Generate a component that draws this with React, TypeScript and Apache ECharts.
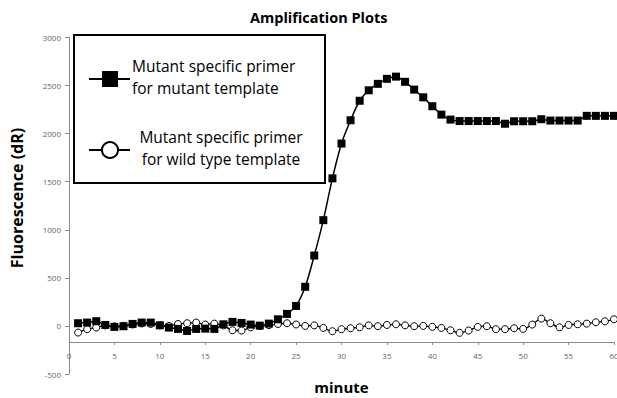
import React, { useEffect, useRef } from "react";
import * as echarts from "echarts";

const minutes = [
  1, 2, 3, 4, 5, 6, 7, 8, 9, 10, 11, 12, 13, 14, 15, 16, 17, 18, 19, 20,
  21, 22, 23, 24, 25, 26, 27, 28, 29, 30, 31, 32, 33, 34, 35, 36, 37, 38, 39, 40,
  41, 42, 43, 44, 45, 46, 47, 48, 49, 50, 51, 52, 53, 54, 55, 56, 57, 58, 59, 60,
];

const mutantTemplate = [
  28, 35, 49, 10, -10, -3, 21, 35, 35, 7, -17, -31, -52, -31, -28, -31, 17, 42, 31, 14,
  3, 24, 69, 125, 208, 407, 732, 1100, 1535, 1897, 2139, 2342, 2451, 2518, 2570, 2593, 2539, 2458, 2378, 2285,
  2198, 2146, 2131, 2131, 2131, 2131, 2131, 2103, 2129, 2129, 2129, 2150, 2136, 2136, 2136, 2136, 2185, 2185, 2185, 2185,
];

const wildTemplate = [
  -69, -34, -17, 5, -5, 0, 15, 25, 20, 5, 0, 20, 28, 35, 15, 24, 5, -45, -48, -15,
  0, 8, 20, 28, 15, 0, 6, -21, -55, -34, -24, -14, 6, -3, 10, 17, 6, -3, 0, -10,
  -21, -45, -72, -48, -10, -3, -34, -34, -24, -31, 14, 76, 28, -14, 10, 17, 24, 38, 48, 69,
];

const seriesNames = [
  "Mutant specific primer\nfor mutant template",
  "Mutant specific primer\nfor wild type template",
];

const FONT = "'Open Sans', 'Noto Sans', sans-serif";

export default function App() {
  const ref = useRef<HTMLDivElement>(null);

  useEffect(() => {
    document.body.style.margin = "0";
    if (!ref.current) return;
    const chart = echarts.init(ref.current, null, { renderer: "svg" });
    const pairs = (vals: number[]) => minutes.map((m, i) => [m, vals[i]]);

    chart.setOption({
      animation: false,
      backgroundColor: "#fff",
      title: {
        text: "Amplification Plots",
        left: 245,
        top: 5,
        textStyle: { fontFamily: FONT, fontSize: 14.5, fontWeight: "bold", color: "#000" },
      },
      grid: [
        { left: 69, right: 3, top: 37.5, bottom: 24, containLabel: false, outerBoundsMode: "none" },
        { left: 69, right: 3, top: 37.5, bottom: 56, containLabel: false, outerBoundsMode: "none" },
      ],
      xAxis: [
        {
          gridIndex: 0,
          type: "value",
          min: 0,
          max: 60,
          interval: 5,
          show: false,
        },
        {
          gridIndex: 1,
          type: "value",
          min: 0,
          max: 60,
          interval: 5,
          name: "minute",
          nameLocation: "middle",
          nameGap: 37,
          nameTextStyle: { fontFamily: FONT, fontSize: 15, fontWeight: "bold", color: "#000" },
          axisLine: { show: true, onZero: false, lineStyle: { color: "#8c8c8c", width: 1 } },
          axisTick: { show: true, length: 3, lineStyle: { color: "#8c8c8c" } },
          axisLabel: { fontFamily: FONT, fontSize: 8, color: "#666", margin: 9, formatter: (v: number) => String(v) },
          splitLine: { show: false },
        },
      ],
      yAxis: [
        {
          gridIndex: 0,
          type: "value",
          min: -500,
          max: 3000,
          interval: 500,
          axisLine: { show: true, onZero: false, lineStyle: { color: "#8c8c8c", width: 1 } },
          axisTick: { show: true, length: 4, lineStyle: { color: "#8c8c8c" } },
          axisLabel: { fontFamily: FONT, fontSize: 8, color: "#666", margin: 8, formatter: (v: number) => String(v) },
          splitLine: { show: false },
        },
        {
          gridIndex: 1,
          type: "value",
          show: false,
          min: 0,
          max: 1,
          splitLine: { show: false },
        },
      ],
      series: [
        {
          name: seriesNames[1],
          type: "line",
          xAxisIndex: 0,
          yAxisIndex: 0,
          data: pairs(wildTemplate),
          smooth: 0.3,
          symbol: "circle",
          symbolSize: 7,
          lineStyle: { color: "#000", width: 1.3 },
          itemStyle: { color: "#fff", borderColor: "#000", borderWidth: 1 },
          z: 2,
        },
        {
          name: seriesNames[0],
          type: "line",
          xAxisIndex: 0,
          yAxisIndex: 0,
          data: pairs(mutantTemplate),
          smooth: 0.3,
          symbol: "rect",
          symbolSize: 8,
          lineStyle: { color: "#000", width: 1.5 },
          itemStyle: { color: "#000" },
          z: 3,
        },
      ],
      graphic: [
        {
          type: "text",
          x: 17,
          y: 198,
          rotation: Math.PI / 2,
          style: {
            text: "Fluorescence (dR)",
            font: `bold 16px ${FONT}`,
            fill: "#000",
            align: "center",
            verticalAlign: "middle",
          },
        },
        {
          type: "group",
          z: 10,
          children: [
            {
              type: "rect",
              shape: { x: 74, y: 35, width: 251, height: 148 },
              style: { fill: "#fff", stroke: "#000", lineWidth: 2 },
            },
            {
              type: "line",
              shape: { x1: 89, y1: 79, x2: 130, y2: 79 },
              style: { stroke: "#000", lineWidth: 2 },
            },
            {
              type: "rect",
              shape: { x: 102, y: 71, width: 16, height: 16 },
              style: { fill: "#000" },
            },
            {
              type: "text",
              x: 132,
              y: 77,
              style: {
                text: seriesNames[0],
                font: `15.5px ${FONT}`,
                lineHeight: 22,
                fill: "#000",
                align: "left",
                verticalAlign: "middle",
              },
            },
            {
              type: "line",
              shape: { x1: 89, y1: 150, x2: 130, y2: 150 },
              style: { stroke: "#000", lineWidth: 2 },
            },
            {
              type: "circle",
              shape: { cx: 110, cy: 150, r: 8 },
              style: { fill: "#fff", stroke: "#000", lineWidth: 2 },
            },
            {
              type: "text",
              x: 221,
              y: 148,
              style: {
                text: seriesNames[1],
                font: `15.5px ${FONT}`,
                lineHeight: 22,
                fill: "#000",
                align: "center",
                verticalAlign: "middle",
              },
            },
          ],
        },
      ],
    });

    return () => chart.dispose();
  }, []);

  return <div ref={ref} style={{ width: 617, height: 398 }} />;
}
